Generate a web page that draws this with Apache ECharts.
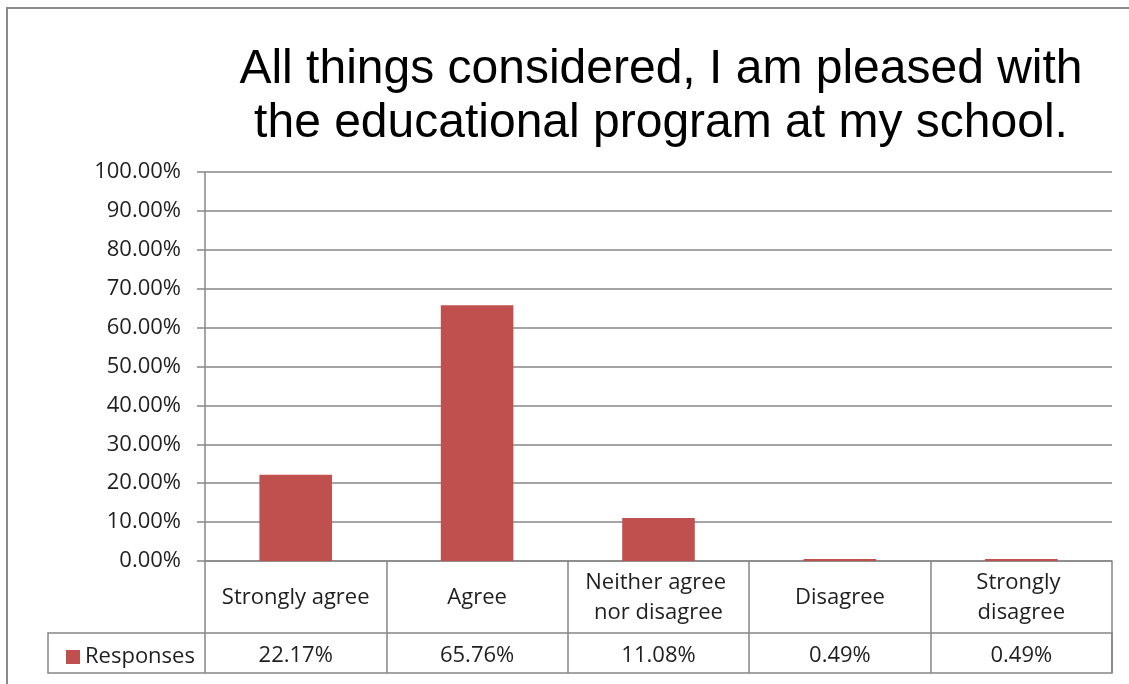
<!DOCTYPE html>
<html>
<head>
<meta charset="utf-8">
<script src="https://cdn.jsdelivr.net/npm/echarts@6/dist/echarts.min.js"></script>
<style>
  html, body { margin: 0; padding: 0; background: #fff; overflow: hidden; }
  #frame { position: absolute; left: 6px; top: 7px; width: 2000px; height: 2000px;
           border-left: 2px solid #8a8a8a; border-top: 2px solid #8a8a8a; }
  #chart { position: absolute; left: 0; top: 0; width: 1129px; height: 684px; }
</style>
</head>
<body>
<div id="frame"></div>
<div id="chart"></div>
<script>
const titleText = 'All things considered, I am pleased with\nthe educational program at my school.';
const categories = ['Strongly agree', 'Agree', 'Neither agree nor disagree', 'Disagree', 'Strongly disagree'];
const responses = [22.17, 65.76, 11.08, 0.49, 0.49];
const seriesName = 'Responses';
const yTicks = [0, 10, 20, 30, 40, 50, 60, 70, 80, 90, 100];

const lineColor = '#878787';
const textColor = '#1f1f1f';
const font = 'Open Sans';

const chart = echarts.init(document.getElementById('chart'), null, { renderer: 'canvas' });
chart.setOption({
  animation: false,
  title: {
    text: titleText,
    left: 656,
    top: 38,
    textAlign: 'center',
    textStyle: { fontFamily: 'Liberation Sans', fontSize: 48, fontWeight: 'normal', lineHeight: 54, color: '#000' }
  },
  legend: {
    data: [seriesName],
    left: 61,
    top: 641,
    icon: 'rect',
    itemWidth: 14,
    itemHeight: 14,
    textStyle: { fontFamily: font, fontSize: 22, color: textColor }
  },
  grid: [
    { left: 205, right: 17, top: 172, bottom: 123, containLabel: false },
    { left: 48, right: 17, top: 633, height: 40, show: true, borderColor: lineColor, borderWidth: 1.5, backgroundColor: 'transparent' }
  ],
  xAxis: [
    {
      type: 'category', gridIndex: 0, data: categories, position: 'bottom', boundaryGap: true,
      axisLine: { show: true, lineStyle: { color: lineColor, width: 1.5 } },
      axisTick: { show: true, interval: 0, length: 112, lineStyle: { color: lineColor, width: 1.5 } },
      axisLabel: {
        interval: 0, margin: 37, verticalAlign: 'middle', width: 165, overflow: 'break',
        lineHeight: 30, fontFamily: font, fontSize: 22, color: textColor
      },
      splitLine: { show: false }
    },
    {
      type: 'category', gridIndex: 0, data: categories, position: 'bottom', boundaryGap: true,
      axisLine: { show: false }, axisTick: { show: false },
      axisLabel: {
        interval: 0, margin: 95, verticalAlign: 'middle', fontFamily: font, fontSize: 22, color: textColor,
        formatter: (v, i) => responses[i].toFixed(2) + '%'
      },
      splitLine: { show: false }
    },
    { type: 'category', gridIndex: 1, data: categories, show: false }
  ],
  yAxis: [
    {
      type: 'value', gridIndex: 0, min: yTicks[0], max: yTicks[yTicks.length - 1], interval: 10,
      axisLine: { show: true, lineStyle: { color: lineColor, width: 1.5 } },
      axisTick: { show: true, length: 8, lineStyle: { color: lineColor, width: 1.5 } },
      axisLabel: { margin: 24, fontFamily: font, fontSize: 22, color: textColor, formatter: v => v.toFixed(2) + '%' },
      splitLine: { show: true, lineStyle: { color: lineColor, width: 1.5 } }
    },
    { type: 'value', gridIndex: 1, show: false }
  ],
  series: [
    {
      name: seriesName, type: 'bar', xAxisIndex: 0, yAxisIndex: 0,
      data: responses, barWidth: '40%',
      itemStyle: { color: '#c0504d' }
    }
  ]
});
</script>
</body>
</html>
